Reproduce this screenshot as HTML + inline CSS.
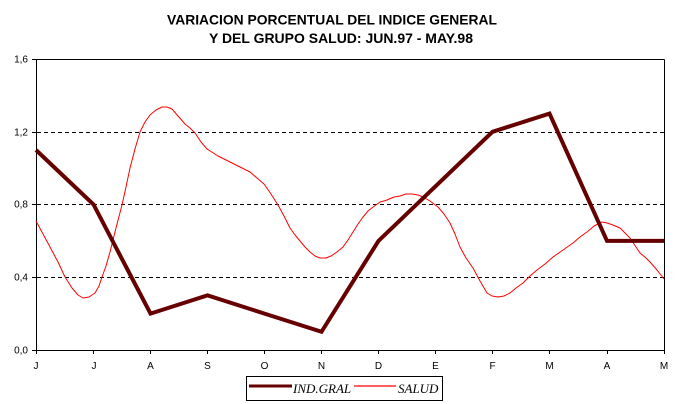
<!DOCTYPE html>
<html>
<head>
<meta charset="utf-8">
<style>
  html, body { margin: 0; padding: 0; background: #ffffff; }
  body { width: 682px; height: 404px; overflow: hidden; }
  svg { display: block; }
  .t { font-family: "Liberation Sans", Arial, sans-serif; font-weight: bold; font-size: 14px; fill: #000; }
  .ax { font-family: "Liberation Sans", Arial, sans-serif; font-size: 10px; fill: #000; }
  .lg { font-family: "Liberation Serif", "Times New Roman", serif; font-style: italic; font-size: 13px; fill: #000; }
</style>
</head>
<body>
<svg width="682" height="404" viewBox="0 0 682 404" xmlns="http://www.w3.org/2000/svg">
  <rect x="0" y="0" width="682" height="404" fill="#ffffff"/>

  <!-- Title -->
  <text class="t" x="167" y="24.5" textLength="330" lengthAdjust="spacingAndGlyphs">VARIACION PORCENTUAL DEL INDICE GENERAL</text>
  <text class="t" x="209" y="43" textLength="264" lengthAdjust="spacingAndGlyphs">Y DEL GRUPO SALUD: JUN.97 - MAY.98</text>

  <!-- Gridlines -->
  <g stroke="#000" stroke-width="1" stroke-dasharray="4,3">
    <line x1="37" y1="277.5" x2="664" y2="277.5"/>
    <line x1="37" y1="204.5" x2="664" y2="204.5"/>
    <line x1="37" y1="132.5" x2="664" y2="132.5"/>
  </g>

  <!-- Plot frame -->
  <g stroke="#000" stroke-width="1" fill="none">
    <line x1="36.5" y1="59.5" x2="664.5" y2="59.5"/>
    <line x1="664.5" y1="59.5" x2="664.5" y2="354"/>
    <line x1="36.5" y1="59" x2="36.5" y2="354"/>
    <line x1="32" y1="350.5" x2="665" y2="350.5"/>
    <!-- y ticks -->
    <line x1="32" y1="59.5" x2="36" y2="59.5"/>
    <line x1="32" y1="132.5" x2="36" y2="132.5"/>
    <line x1="32" y1="204.5" x2="36" y2="204.5"/>
    <line x1="32" y1="277.5" x2="36" y2="277.5"/>
    <!-- x ticks -->
    <line x1="93.5" y1="350" x2="93.5" y2="354"/>
    <line x1="150.5" y1="350" x2="150.5" y2="354"/>
    <line x1="207.5" y1="350" x2="207.5" y2="354"/>
    <line x1="264.5" y1="350" x2="264.5" y2="354"/>
    <line x1="321.5" y1="350" x2="321.5" y2="354"/>
    <line x1="378.5" y1="350" x2="378.5" y2="354"/>
    <line x1="435.5" y1="350" x2="435.5" y2="354"/>
    <line x1="492.5" y1="350" x2="492.5" y2="354"/>
    <line x1="549.5" y1="350" x2="549.5" y2="354"/>
    <line x1="607.5" y1="350" x2="607.5" y2="354"/>
  </g>

  <!-- Y labels -->
  <g class="ax" text-anchor="end">
    <text x="28" y="62.5">1,6</text>
    <text x="28" y="135.5">1,2</text>
    <text x="28" y="207.5">0,8</text>
    <text x="28" y="280.5">0,4</text>
    <text x="28" y="353.5">0,0</text>
  </g>

  <!-- X labels -->
  <g class="ax" text-anchor="middle">
    <text x="36" y="369">J</text>
    <text x="94" y="369">J</text>
    <text x="150.5" y="369">A</text>
    <text x="207.5" y="369">S</text>
    <text x="264.5" y="369">O</text>
    <text x="321.5" y="369">N</text>
    <text x="378.5" y="369">D</text>
    <text x="435.5" y="369">E</text>
    <text x="492.5" y="369">F</text>
    <text x="549.5" y="369">M</text>
    <text x="607" y="369">A</text>
    <text x="664" y="369">M</text>
  </g>

  <!-- SALUD (red smooth curve) -->
  <polyline fill="none" stroke="#ff0000" stroke-width="1" stroke-linejoin="round"
    points="36,221 43,234 50,247 58,262 65,277 72,288 78,295 83,298 89,297 95,293 99,286 102,277 106,266 110,252 116,228 122,205 126,187 130,168 135,149 140,132 145,122 150,115 156,110 162,107 167,107 172,109 178,116 185,124 190,128 195,133 201,142 207,149 218,156 230,162 240,167 250,172 257,178 264,184 271,194 278,205 284,216 290,228 295,235 300,241 305,247 310,252 315,256 320,258 326,258 331,256 337,252 343,247 348,240 353,232 358,224 363,217 368,211 373,207 380,202 387,200 394,197 400,196 406,194 412,194 418,195 423,197 430,201 438,207 444,214 450,223 455,234 460,247 466,258 473,268 480,281 487,293 492,296 498,297 504,296 510,293 516,288 523,283 530,276 537,270 545,264 553,257 563,250 573,243 580,237 587,232 594,226 602,222 607,223 613,225 620,228 630,238 640,253 646,258 650,262 657,270 664,279"/>

  <!-- IND.GRAL (dark thick line) -->
  <polyline fill="none" stroke="#660000" stroke-width="4" stroke-linejoin="miter"
    points="36,150 93.5,204.5 150.5,313.6 207.5,295.4 264.5,313.6 321.5,331.8 378.5,240.9 435.5,186.3 492.5,131.8 549.5,113.6 607,240.9 664,240.9"/>

  <!-- Legend -->
  <rect x="246.5" y="376.5" width="196" height="24" fill="#ffffff" stroke="#000" stroke-width="1"/>
  <line x1="249" y1="386" x2="292" y2="386" stroke="#660000" stroke-width="3"/>
  <text class="lg" x="293" y="393">IND.GRAL</text>
  <line x1="354" y1="386" x2="396" y2="386" stroke="#ff0000" stroke-width="1.2"/>
  <text class="lg" x="398" y="393">SALUD</text>
</svg>
</body>
</html>
